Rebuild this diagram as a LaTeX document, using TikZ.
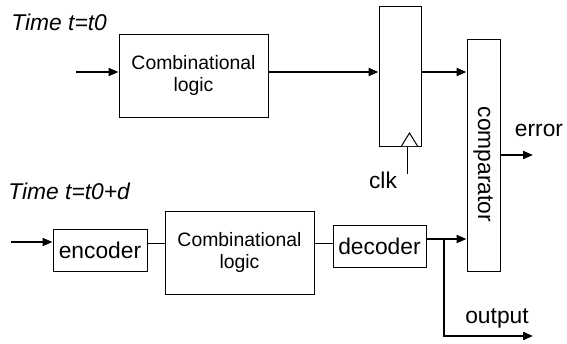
\documentclass[tikz,border=0pt]{standalone}
\usepackage{fontspec}
\setmainfont{Liberation Sans}
\usetikzlibrary{arrows.meta}
\begin{document}
\begin{tikzpicture}[x=0.5pt,y=-0.5pt,
  blk/.style={draw,line width=0.5pt,inner sep=0pt,align=center,font=\fontsize{11.4}{13}\selectfont},
  sig/.style={line width=1pt,-{Triangle[length=5pt,width=4pt]}},
  wire/.style={line width=0.5pt}]
  \useasboundingbox (0,0) rectangle (567,343); %

  % upper path, time t0
  \node[anchor=base west,inner sep=0pt,font=\fontsize{11.4}{13}\selectfont\itshape] (t1) at (11,30) {Time t=t0};%
  \node[blk,minimum width=74.5pt,minimum height=41.5pt,font=\fontsize{9.7}{11}\selectfont] (comb1) at (193.5,75.5) {Combinational\\logic\hspace*{0pt}};%
  \node[blk,minimum width=21pt,minimum height=70pt] (reg) at (400,76) {};%
  \node[blk,minimum width=16.5pt,minimum height=116pt] (cmp) at (483.5,155) {};%
  \node[rotate=-90,font=\fontsize{11.4}{13}\selectfont] (cmplbl) at (483,164.5) {comparator};%

  \coordinate (in1) at (76,72);
  \coordinate (r1) at (0,72);
  \draw[sig] (in1) -- (in1 -| comb1.west);%
  \draw[sig] (comb1.east |- r1) -- (reg.west |- r1);%
  \draw[sig] (reg.east |- r1) -- (cmp.west |- r1);%

  % clock input
  \draw[line width=0.5pt,fill=white] (401.5,146) -- (409.5,133) -- (417.5,146);%
  \coordinate (clk) at (407,174);
  \draw[wire] (clk) -- (clk |- reg.south);%
  \node[font=\fontsize{11.4}{13}\selectfont] (clklbl) at (383,180) {clk};%

  % error output
  \coordinate (err) at (533,155);
  \draw[sig] (cmp.east |- err) -- (err);%
  \node[font=\fontsize{11.4}{13}\selectfont] (errlbl) at (539,130) {error};%

  % lower path, time t0+d
  \node[anchor=base west,inner sep=0pt,font=\fontsize{11.4}{13}\selectfont\itshape] (t2) at (8,199) {Time t=t0+d};%
  \node[blk,minimum width=47pt,minimum height=21pt] (enc) at (100,250) {encoder};%
  \node[blk,minimum width=74.5pt,minimum height=41.5pt,font=\fontsize{9.7}{11}\selectfont] (comb2) at (239.5,252.5) {Combinational\\logic};%
  \node[blk,minimum width=46.5pt,minimum height=21pt] (dec) at (379.5,246) {decoder};%

  \coordinate (in2) at (11,242);
  \coordinate (r2) at (0,243);
  \coordinate (r3) at (0,239);
  \draw[sig] (in2) -- (in2 -| enc.west);%
  \draw[wire] (enc.east |- r2) -- (comb2.west |- r2);%
  \draw[wire] (comb2.east |- r2) -- (dec.west |- r2);%
  \draw[sig] (dec.east |- r3) -- (cmp.west |- r3);%

  % output branch
  \coordinate (br) at (444,239);
  \coordinate (out) at (533,336);
  \draw[sig] (br) -- (br |- out) -- (out);%
  \node[font=\fontsize{11.4}{13}\selectfont] (outlbl) at (497,318) {output};%
\end{tikzpicture}
\end{document}
